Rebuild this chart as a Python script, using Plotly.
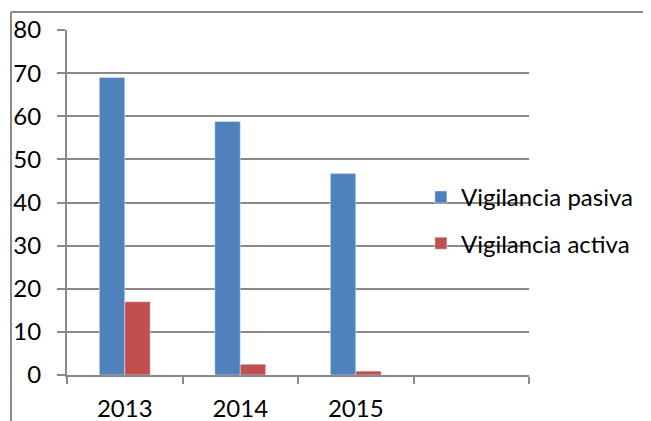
import plotly.graph_objects as go

categories = ["2013", "2014", "2015", " "]
pasiva = [69.0, 58.8, 46.7, None]
activa = [17.0, 2.5, 0.9, None]
y_ticks = [0, 10, 20, 30, 40, 50, 60, 70, 80]

GRID = "#8a8a8a"
FONT = dict(family="Lato", size=24, color="#000000")

# page body has an 8px margin; figure coordinates are offset accordingly
fig = go.Figure()
fig.add_trace(go.Bar(name="Vigilancia pasiva", x=categories, y=pasiva,
                     marker=dict(color="#4F81BD"), legendgroup="a"))
fig.add_trace(go.Bar(name="Vigilancia activa", x=categories, y=activa,
                     marker=dict(color="#C0504D"), legendgroup="b"))

fig.update_layout(
    width=643, height=413,
    margin=dict(l=59, r=122, t=22, b=46, autoexpand=False),
    paper_bgcolor="white", plot_bgcolor="white",
    font=FONT,
    barmode="group", bargap=0.56, bargroupgap=0,
    showlegend=True,
    legend=dict(x=0.766, y=0.58, xanchor="left", yanchor="top",
                bgcolor="rgba(0,0,0,0)", font=FONT,
                tracegroupgap=12, traceorder="grouped"),
    xaxis=dict(type="category", categoryorder="array", categoryarray=categories,
               range=[-0.5, 3.5], tickson="boundaries",
               ticks="outside", ticklen=7, tickwidth=2, tickcolor=GRID,
               showline=True, linecolor=GRID, linewidth=2,
               showgrid=False, ticklabelstandoff=11, fixedrange=True),
    yaxis=dict(range=[0, 80], tickvals=y_ticks, ticks="outside", ticklen=8,
               tickwidth=2, tickcolor=GRID,
               showgrid=True, gridcolor=GRID, gridwidth=2,
               showline=True, linecolor=GRID, linewidth=2, zeroline=False,
               ticklabelstandoff=11, fixedrange=True),
    shapes=[dict(type="line", xref="paper", yref="paper",
                 x0=(3 - 59) / 462, x1=(3 - 59) / 462,
                 y0=(367 - 4) / 345, y1=(367 - 440) / 345,
                 line=dict(color=GRID, width=2)),
            dict(type="line", xref="paper", yref="paper",
                 x0=(3 - 59) / 462, x1=(660 - 59) / 462,
                 y0=(367 - 4) / 345, y1=(367 - 4) / 345,
                 line=dict(color=GRID, width=2))],
)

fig.write_html("out.html", config={"displayModeBar": False})
